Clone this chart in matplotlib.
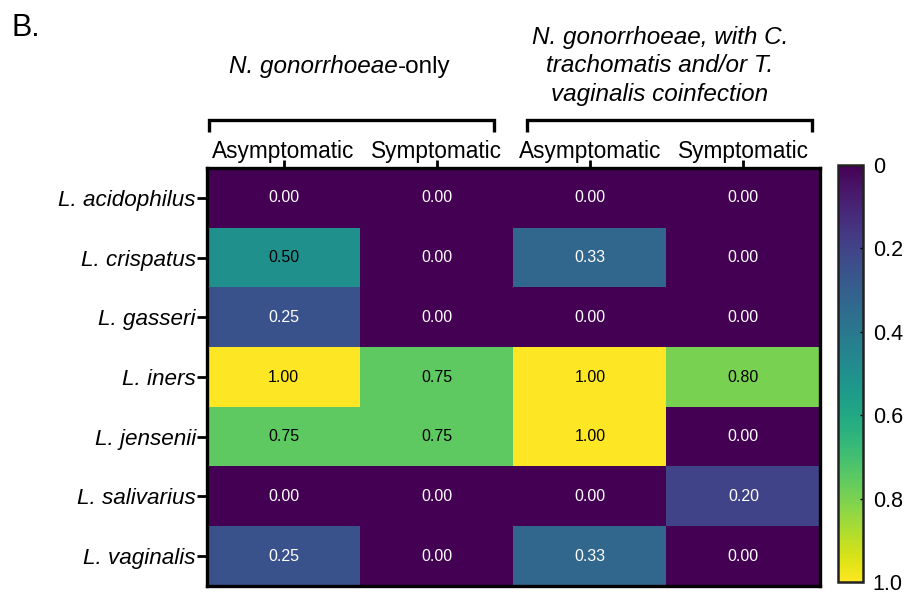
import matplotlib
matplotlib.use("Agg")
import matplotlib.pyplot as plt
import numpy as np

plt.rcParams['font.family'] = ['Liberation Sans', 'DejaVu Sans']

species = ["L. acidophilus", "L. crispatus", "L. gasseri", "L. iners",
           "L. jensenii", "L. salivarius", "L. vaginalis"]
columns = ["Asymptomatic", "Symptomatic", "Asymptomatic", "Symptomatic"]
ng_only_asym = [0.00, 0.50, 0.25, 1.00, 0.75, 0.00, 0.25]
ng_only_sym = [0.00, 0.00, 0.00, 0.75, 0.75, 0.00, 0.00]
coinf_asym = [0.00, 0.33, 0.00, 1.00, 1.00, 0.00, 0.33]
coinf_sym = [0.00, 0.00, 0.00, 0.80, 0.00, 0.20, 0.00]
group1_title = ("N. gonorrhoeae", "-only")
group2_title = "N. gonorrhoeae, with C.\ntrachomatis and/or T.\nvaginalis coinfection"
cbar_ticks = [0, 0.2, 0.4, 0.6, 0.8, 1.0]
cbar_labels = ["0", "0.2", "0.4", "0.6", "0.8", "1.0"]

data = np.array([ng_only_asym, ng_only_sym, coinf_asym, coinf_sym]).T

W, H = 905, 601
fig = plt.figure(figsize=(W / 100, H / 100), dpi=100)

def rect(x0, y0, x1, y1):
    return [x0 / W, 1 - y1 / H, (x1 - x0) / W, (y1 - y0) / H]

ax = fig.add_axes(rect(207, 168, 820, 586))
cmap = plt.get_cmap('viridis')
im = ax.imshow(data, cmap=cmap, vmin=0, vmax=1, aspect='auto',
               interpolation='nearest')

for i in range(data.shape[0]):
    for j in range(data.shape[1]):
        v = data[i, j]
        ax.text(j, i, f"{v:.2f}", ha='center', va='center', fontsize=11.5,
                color='black' if v >= 0.45 else 'white')

ax.set_xticks(range(len(columns)))
ax.set_xticklabels(columns, fontsize=16.3)
ax.xaxis.tick_top()
ax.set_yticks(range(len(species)))
ax.set_yticklabels(species, fontsize=16.2, style='italic')
ax.tick_params(axis='x', length=6, width=2, pad=-2.5)
ax.tick_params(axis='y', length=7, width=2, pad=1)
for s in ax.spines.values():
    s.set_linewidth(2.4)

# colour bar with 0 at the top
cax = fig.add_axes(rect(838, 165, 863, 582))
cb = fig.colorbar(im, cax=cax, ticks=cbar_ticks)
cb.ax.invert_yaxis()
cb.ax.set_yticklabels(cbar_labels, fontsize=15.5)
cb.ax.tick_params(length=2, width=1, direction='in', pad=7)
cb.outline.set_linewidth(1.8)
cb.outline.set_edgecolor('#222222')

# group brackets
for (x0, x1) in [(209, 494), (527, 812)]:
    xs = [x0 / W, x0 / W, x1 / W, x1 / W]
    ys = [1 - 132 / H, 1 - 120 / H, 1 - 120 / H, 1 - 132 / H]
    fig.add_artist(plt.Line2D(xs, ys, color='black', lw=2.4,
                              solid_capstyle='butt', solid_joinstyle='miter'))

# group titles
fig.text(398 / W, 1 - 67 / H, group1_title[0], ha='right', va='center',
         fontsize=17.5, style='italic')
fig.text(398 / W, 1 - 67 / H, group1_title[1], ha='left', va='center',
         fontsize=17.5)
fig.text(660 / W, 1 - 66 / H, group2_title, ha='center', va='center',
         fontsize=17.5, style='italic', linespacing=1.32)

fig.text(11 / W, 1 - 28 / H, "B.", ha='left', va='center', fontsize=22)

fig.savefig("out.png", dpi=100)
